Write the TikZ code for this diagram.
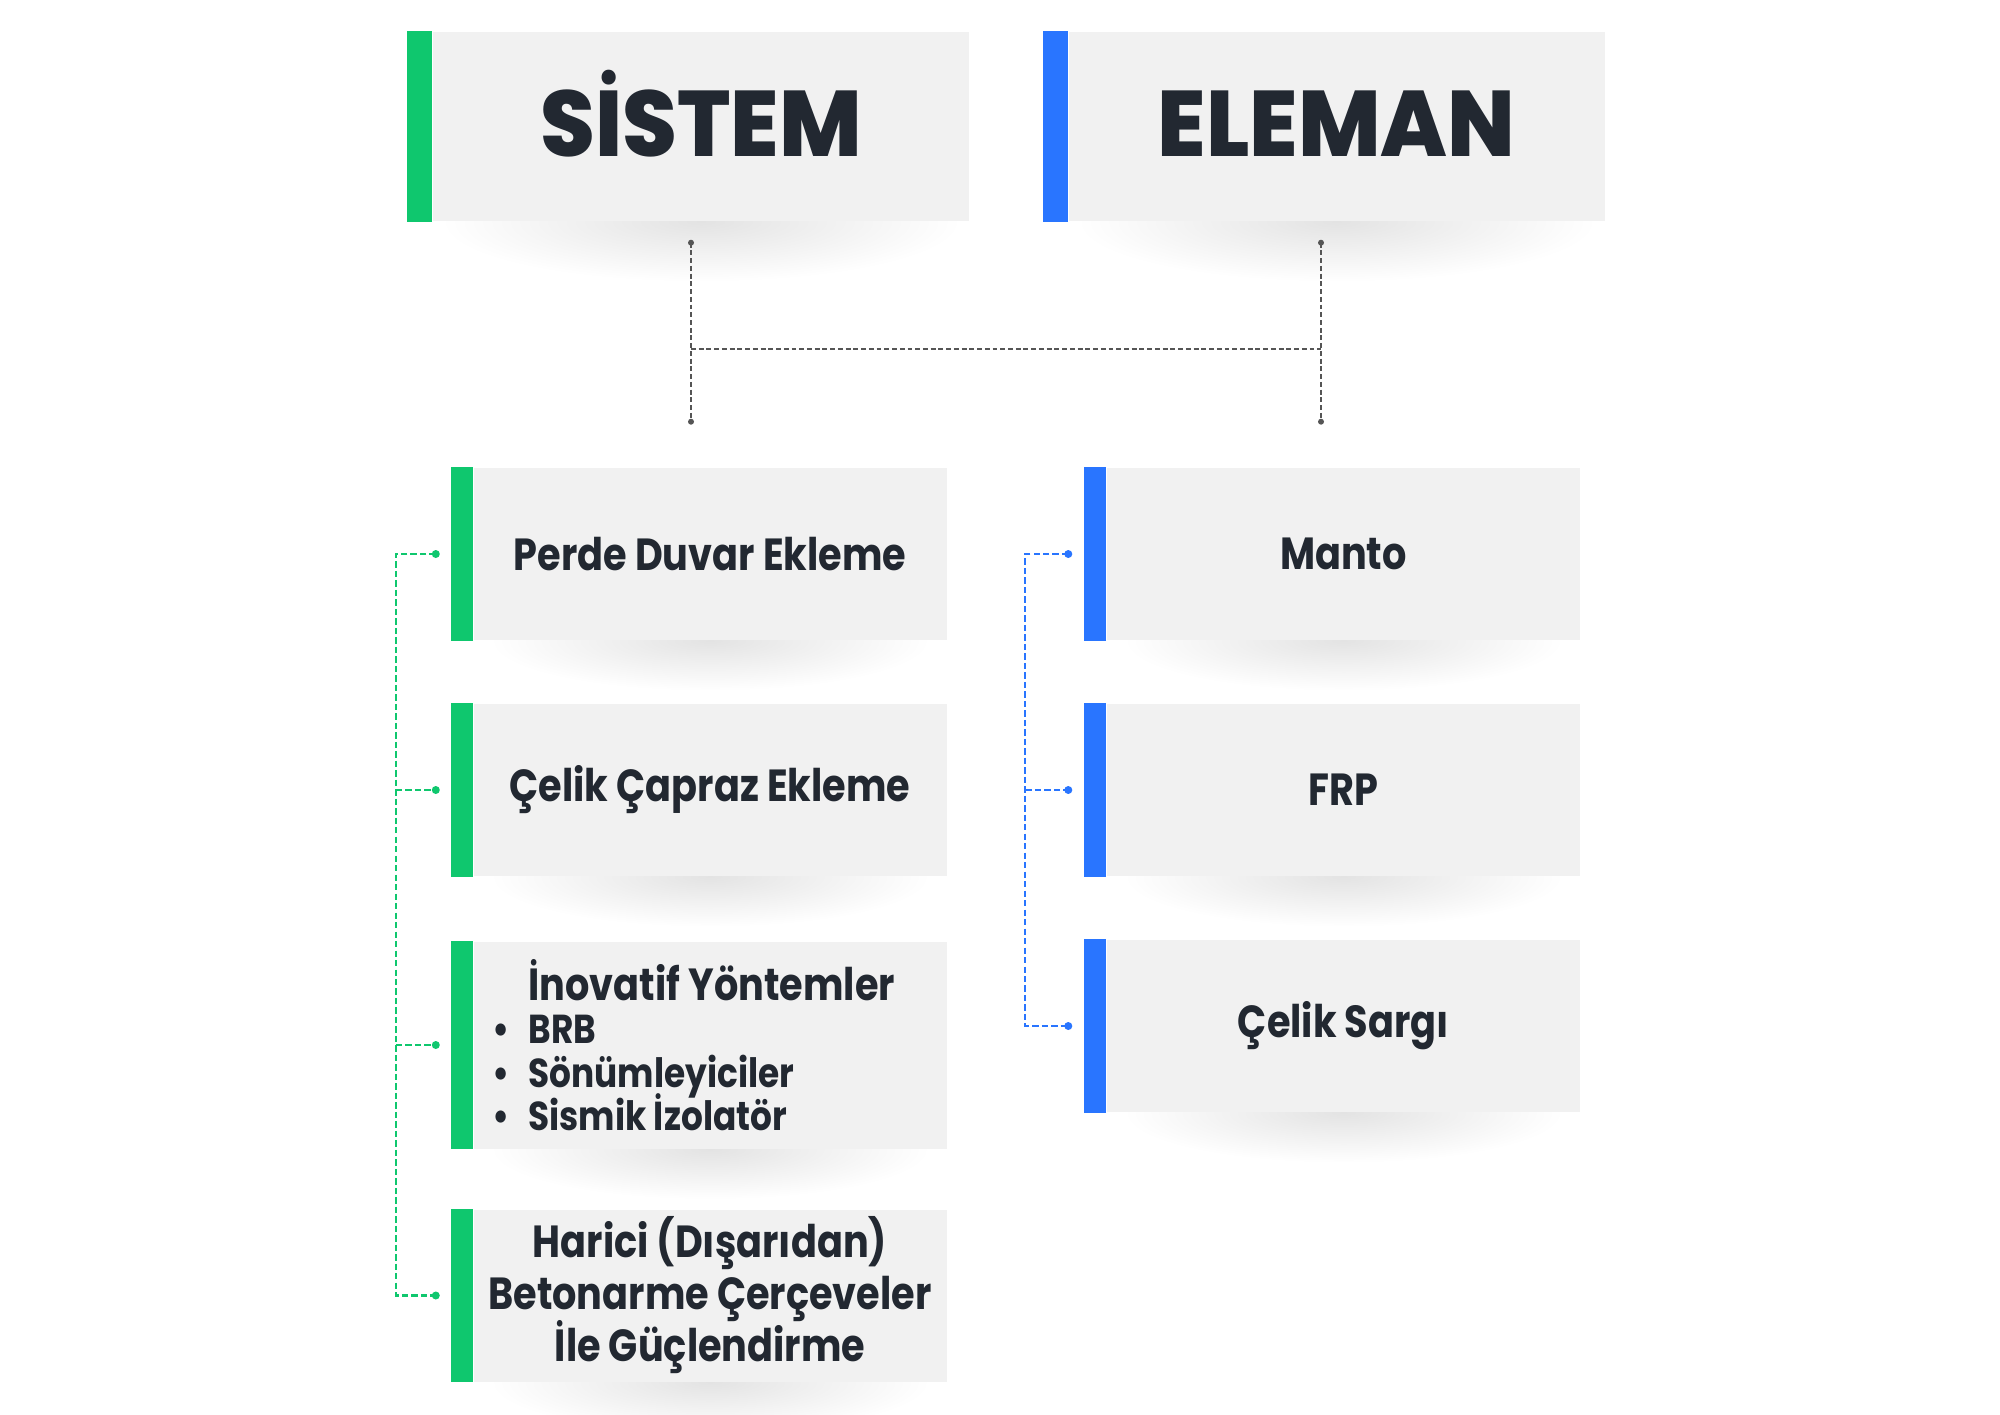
\documentclass[tikz,border=0pt]{standalone}
\usepackage{fontspec}
\setmainfont{Poppins}[FakeStretch=0.85]
\newfontfamily\headfont{Poppins ExtraBold}[FakeStretch=0.95]
\usetikzlibrary{calc,backgrounds}
\definecolor{sgreen}{HTML}{0FC76E}
\definecolor{sblue}{HTML}{2975FF}
\definecolor{boxgray}{HTML}{F1F1F1}
\definecolor{ink}{HTML}{222831}
\definecolor{lgray}{HTML}{555555}
\newcommand{\tightlines}{\setlength{\lineskiplimit}{-20pt}}
\tikzset{
  box/.style={rectangle, fill=boxgray, inner sep=0pt, text=ink, align=center,
    font=\bfseries\fontsize{12.8}{14.8}\selectfont\tightlines,
    minimum width=4.73cm, minimum height=1.72cm},
  headbox/.style={box, minimum width=5.36cm, minimum height=1.89cm,
    text height=17pt, text depth=0pt,
    font=\headfont\fontsize{26.5}{30}\selectfont},
  tline/.style={lgray, line width=0.6pt, dash pattern=on 1.4pt off 0.8pt},
  gline/.style={sgreen, line width=0.6pt, dash pattern=on 1.8pt off 0.9pt},
  bline/.style={sblue, line width=0.6pt, dash pattern=on 1.8pt off 0.9pt},
}
\begin{document}
\begin{tikzpicture}[y=-1cm]
\useasboundingbox (0,0) rectangle (20,14.14);

% heads
\node[headbox] (sistem) at (7.01,1.265) {SİSTEM};
\node[headbox] (eleman) at (13.365,1.265) {ELEMAN};

% sistem column
\node[box] (perde) at (7.10,5.54) {Perde Duvar Ekleme};
\node[box] (celik) at (7.10,7.90) {Çelik Çapraz Ekleme};
\node[box, minimum height=2.07cm, text width=4.73cm, align=flush left,
  font=\bfseries\fontsize{11.5}{12.4}\selectfont\tightlines] (inov) at (7.10,10.45)
  {\hspace*{0.55cm}{\fontsize{12.8}{12.4}\selectfont İnovatif Yöntemler}\\
   \hspace*{0.19cm}\makebox[0.36cm][l]{•}BRB\\
   \hspace*{0.19cm}\makebox[0.36cm][l]{•}Sönümleyiciler\\
   \hspace*{0.19cm}\makebox[0.36cm][l]{•}Sismik İzolatör};
\node[box] (harici) at (7.10,12.955) {Harici (Dışarıdan)\\Betonarme Çerçeveler\\İle Güçlendirme};

% eleman column
\node[box] (manto) at (13.435,5.54) {Manto};
\node[box] (frp) at (13.435,7.90) {FRP};
\node[box] (sargi) at (13.435,10.26) {Çelik Sargı};

% colour bars
\fill[sgreen] (sistem.north west) rectangle ([xshift=-0.25cm]sistem.south west);
\fill[sblue] (eleman.north west) rectangle ([xshift=-0.25cm]eleman.south west);
\foreach \n in {perde,celik,inov,harici}
  \fill[sgreen] (\n.north west) rectangle ([xshift=-0.22cm]\n.south west);
\foreach \n in {manto,frp,sargi}
  \fill[sblue] (\n.north west) rectangle ([xshift=-0.22cm]\n.south west);

% shadows
\begin{scope}[on background layer]
  \shade[inner color=black!11, outer color=white] (sistem.south) ellipse (2.6 and 0.6);
  \shade[inner color=black!11, outer color=white] (eleman.south) ellipse (2.6 and 0.6);
  \foreach \n in {perde,celik,inov,harici,manto,frp,sargi}
    \shade[inner color=black!11, outer color=white] (\n.south) ellipse (2.2 and 0.5);
\end{scope}

% top link
\coordinate (s1) at ([xshift=-0.10cm,yshift=-0.21cm]sistem.south);
\coordinate (s2) at ([xshift=-0.10cm,yshift=-2.0cm]sistem.south);
\coordinate (e1) at ([xshift=-0.155cm,yshift=-0.21cm]eleman.south);
\coordinate (e2) at ([xshift=-0.155cm,yshift=-2.0cm]eleman.south);
\draw[tline] (s1) -- (s2);
\draw[tline] (e1) -- (e2);
\draw[tline] ($(s1)!0.595!(s2)$) -- ($(e1)!0.595!(e2)$);
\foreach \p in {s1,s2,e1,e2}
  \fill[lgray] (\p) circle (0.03);

% green branches
\coordinate (gtop) at ([xshift=-0.77cm]perde.west);
\foreach \n in {perde,celik,inov,harici}
  \coordinate (\n-in) at ([xshift=-0.37cm]\n.west);
\draw[gline] (perde-in) -- (gtop) -- (gtop |- harici-in) -- (harici-in);
\foreach \n in {celik,inov}
  \draw[gline] (gtop |- \n-in) -- (\n-in);
\foreach \n in {perde,celik,inov,harici}
  \fill[sgreen] (\n-in) circle (0.04);

% blue branches
\coordinate (btop) at ([xshift=-0.81cm]manto.west);
\foreach \n in {manto,frp,sargi}
  \coordinate (\n-in) at ([xshift=-0.38cm]\n.west);
\draw[bline] (manto-in) -- (btop) -- (btop |- sargi-in) -- (sargi-in);
\draw[bline] (btop |- frp-in) -- (frp-in);
\foreach \n in {manto,frp,sargi}
  \fill[sblue] (\n-in) circle (0.04);
\end{tikzpicture}
\end{document}
